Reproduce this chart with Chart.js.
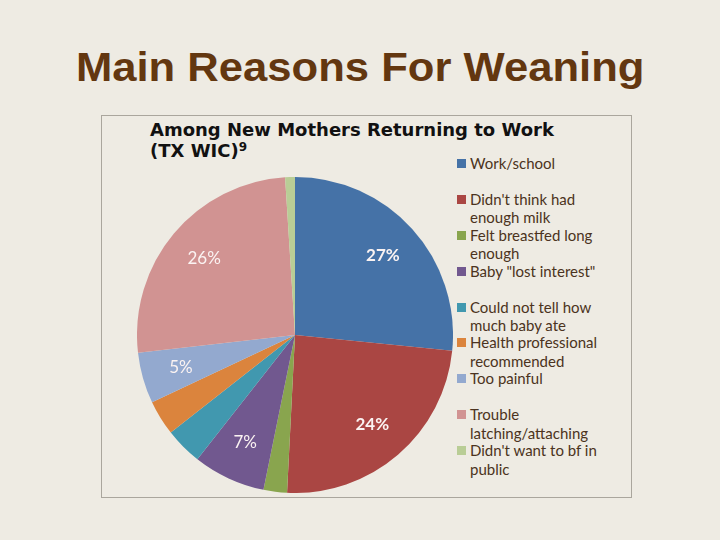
<!DOCTYPE html>
<html>
<head>
<meta charset="utf-8">
<script src="https://cdn.jsdelivr.net/npm/chart.js@4.4.1/dist/chart.umd.min.js"></script>
<style>
  html, body { margin: 0; padding: 0; }
  body { width: 720px; height: 540px; background: #eeebe3; position: relative; overflow: hidden; }
  #slide-title { position: absolute; left: 0; width: 720px; top: 45px; text-align: center;
    font-family: "Liberation Sans", Arial, sans-serif; font-weight: bold; font-size: 40px; color: #633710;
    transform: scaleX(1.09); transform-origin: 358px 0; }
  #box { position: absolute; left: 101px; top: 115px; width: 529px; height: 381px; border: 1px solid #aaa69d; }
  #chart-title { position: absolute; left: 150px; top: 119px; font-family: "DejaVu Sans", Verdana, sans-serif;
    font-weight: bold; font-size: 18px; line-height: 21px; color: #111; }
  #chart-title sup { font-size: 12px; vertical-align: 6px; line-height: 0; }
  #pie-wrap { position: absolute; left: 137px; top: 177px; width: 316px; height: 316px; }
  #legend { position: absolute; left: 457px; top: 154px; font-family: Lato, "Open Sans", sans-serif;
    font-size: 15px; color: #4b3320; }
  .item { position: relative; height: 35.9px; padding-left: 13px; line-height: 18.5px; }
  .item .sw { position: absolute; left: 0; top: 5px; width: 9px; height: 9px; }
</style>
</head>
<body>
<div id="slide-title">Main Reasons For Weaning</div>
<div id="box"></div>
<div id="chart-title">Among New Mothers Returning to Work<br>(TX WIC)<sup>9</sup></div>
<div id="pie-wrap"><canvas id="pie"></canvas></div>
<div id="legend"></div>
<script>
const reasons = [
  ['Work/school'],
  ["Didn't think had", 'enough milk'],
  ['Felt breastfed long', 'enough'],
  ['Baby "lost interest"'],
  ['Could not tell how', 'much baby ate'],
  ['Health professional', 'recommended'],
  ['Too painful'],
  ['Trouble', 'latching/attaching'],
  ["Didn't want to bf in", 'public']
];
const shares = [26.6, 24.2, 2.4, 7.4, 3.8, 3.6, 5.2, 25.8, 1.0];
const colors = ['#4572a7', '#aa4643', '#89a54e', '#71588f', '#4198af', '#db843d', '#93a9cf', '#d19392', '#b9cd96'];
const boldSlices = [0, 1];

// legend built from the same arrays
const legendEl = document.getElementById('legend');
reasons.forEach(function(lines, i){
  const item = document.createElement('div');
  item.className = 'item';
  const sw = document.createElement('span');
  sw.className = 'sw';
  sw.style.background = colors[i];
  item.appendChild(sw);
  item.insertAdjacentHTML('beforeend', lines.map(function(t){ return t.replace(/"/g, '&quot;'); }).join('<br>'));
  legendEl.appendChild(item);
});

// percent labels inside the slices
const sliceLabels = {
  id: 'sliceLabels',
  afterDatasetsDraw(chart){
    const ctx = chart.ctx;
    const meta = chart.getDatasetMeta(0);
    const total = shares.reduce(function(a, b){ return a + b; }, 0);
    meta.data.forEach(function(arc, i){
      const pct = Math.round(shares[i] / total * 100);
      if (pct < 5) return;
      const p = arc.getProps(['x', 'y', 'startAngle', 'endAngle', 'outerRadius'], true);
      const mid = (p.startAngle + p.endAngle) / 2;
      const r = p.outerRadius * 0.75;
      ctx.save();
      ctx.font = (boldSlices.includes(i) ? 'bold ' : '') + '17px Lato, "Open Sans", sans-serif';
      ctx.fillStyle = '#fbf3f2';
      ctx.textAlign = 'center';
      ctx.textBaseline = 'middle';
      ctx.fillText(pct + '%', p.x + Math.cos(mid) * r, p.y + Math.sin(mid) * r);
      ctx.restore();
    });
  }
};

new Chart(document.getElementById('pie').getContext('2d'), {
  type: 'pie',
  data: {
    labels: reasons.map(function(l){ return l.join(' '); }),
    datasets: [{
      data: shares,
      backgroundColor: colors,
      borderWidth: 0
    }]
  },
  options: {
    responsive: true,
    maintainAspectRatio: false,
    animation: false,
    layout: { padding: 0 },
    plugins: {
      legend: { display: false },
      tooltip: { enabled: false },
      title: { display: false }
    }
  },
  plugins: [sliceLabels]
});
</script>
</body>
</html>
